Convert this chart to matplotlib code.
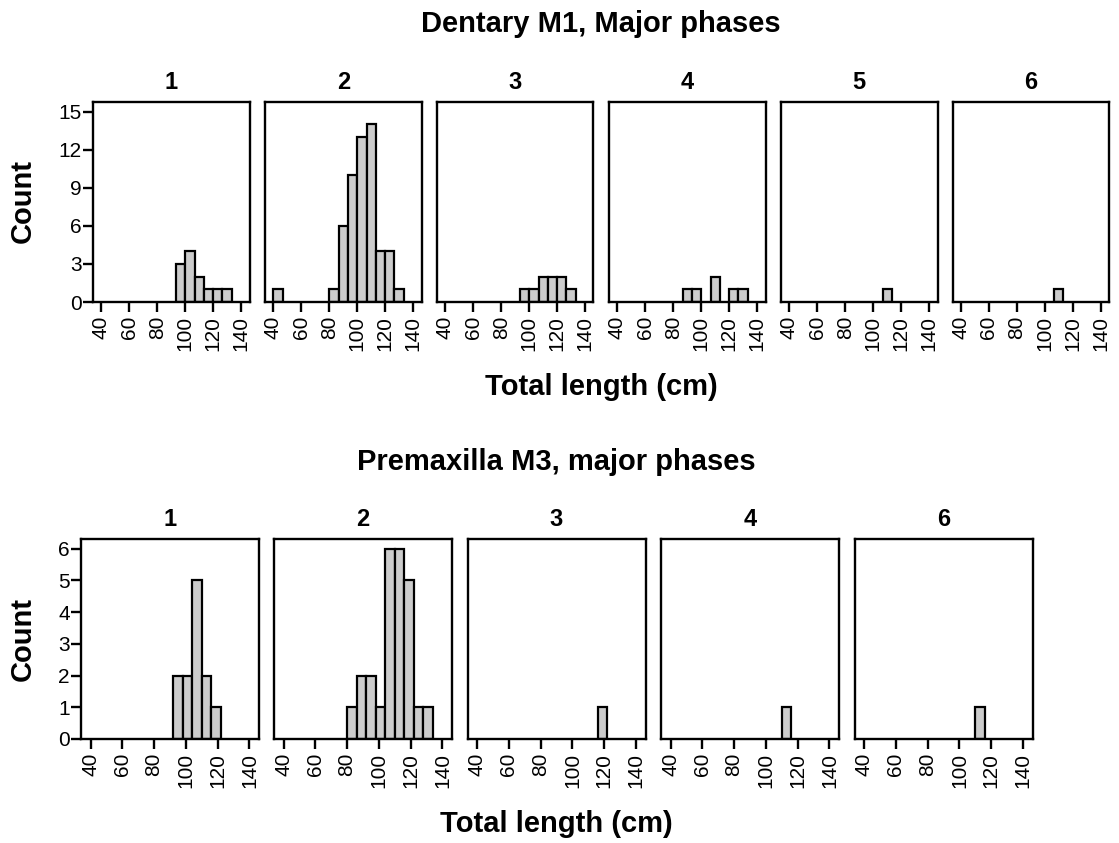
import numpy as np
import matplotlib
matplotlib.use("Agg")
import matplotlib.pyplot as plt

plt.rcParams['font.family'] = ['Liberation Sans', 'DejaVu Sans']

# Dentary M1: bins of 20/3 cm from 40 to 140
top_edges = [40, 46.67, 53.33, 60, 66.67, 73.33, 80, 86.67, 93.33, 100,
             106.67, 113.33, 120, 126.67, 133.33, 140]
top_phases = ["1", "2", "3", "4", "5", "6"]
top_counts = [
    [0, 0, 0, 0, 0, 0, 0, 0, 3, 4, 2, 1, 1, 1, 0],
    [1, 0, 0, 0, 0, 0, 1, 6, 10, 13, 14, 4, 4, 1, 0],
    [0, 0, 0, 0, 0, 0, 0, 0, 1, 1, 2, 2, 2, 1, 0],
    [0, 0, 0, 0, 0, 0, 0, 1, 1, 0, 2, 0, 1, 1, 0],
    [0, 0, 0, 0, 0, 0, 0, 0, 0, 0, 1, 0, 0, 0, 0],
    [0, 0, 0, 0, 0, 0, 0, 0, 0, 0, 1, 0, 0, 0, 0],
]
top_yticks = [0, 3, 6, 9, 12, 15]

# Premaxilla M3: bins of 6 cm from 80 to 134
bot_edges = [80, 86, 92, 98, 104, 110, 116, 122, 128, 134]
bot_phases = ["1", "2", "3", "4", "6"]
bot_counts = [
    [0, 0, 2, 2, 5, 2, 1, 0, 0],
    [1, 2, 2, 1, 6, 6, 5, 1, 1],
    [0, 0, 0, 0, 0, 0, 1, 0, 0],
    [0, 0, 0, 0, 0, 1, 0, 0, 0],
    [0, 0, 0, 0, 0, 1, 0, 0, 0],
]
bot_yticks = [0, 1, 2, 3, 4, 5, 6]

xticks = [40, 60, 80, 100, 120, 140]

W, H = 1119, 843
fig = plt.figure(figsize=(W / 100, H / 100), dpi=100)


def px_axes(left, top, width, height):
    return fig.add_axes([left / W, 1 - (top + height) / H, width / W, height / H])


def draw_row(edges, counts, phases, yticks, lefts, top, width, height):
    edges = np.array(edges)
    ymax = yticks[-1] * 1.05
    for i, (c, ph) in enumerate(zip(counts, phases)):
        ax = px_axes(lefts[i], top, width, height)
        c = np.array(c)
        keep = c > 0
        ax.bar(edges[:-1][keep], c[keep], width=np.diff(edges)[keep], align='edge',
               color='#cccccc', edgecolor='black', linewidth=1.6)
        ax.set_xlim(34, 146)
        ax.set_ylim(0, ymax)
        ax.set_xticks(xticks)
        ax.set_xticklabels([str(t) for t in xticks], rotation=90, fontsize=15)
        ax.tick_params(axis='x', direction='out', length=7, width=1.7, pad=3)
        if i == 0:
            ax.set_yticks(yticks)
            ax.set_yticklabels([str(t) for t in yticks], fontsize=15)
            ax.tick_params(axis='y', direction='out', length=7, width=1.7, pad=1)
        else:
            ax.set_yticks([])
        for s in ax.spines.values():
            s.set_linewidth(1.7)
        cx = (lefts[i] + width / 2) / W
        fig.text(cx, 1 - (top - 13) / H, ph, ha='center', va='baseline',
                 fontsize=17, fontweight='bold')


top_lefts = [93, 265, 437, 609, 781, 952.5]
draw_row(top_edges, top_counts, top_phases, top_yticks, top_lefts, 102, 156.5, 200)

bot_lefts = [81, 274, 467.5, 661, 854.5]
draw_row(bot_edges, bot_counts, bot_phases, bot_yticks, bot_lefts, 539, 178, 200)

fig.text(601 / W, 1 - 32 / H, "Dentary M1, Major phases", ha='center', va='baseline',
         fontsize=21, fontweight='bold')
fig.text(601 / W, 1 - 395 / H, "Total length (cm)", ha='center', va='baseline',
         fontsize=21, fontweight='bold')
fig.text(23 / W, 1 - 201 / H, "Count", ha='center', va='center', rotation=90,
         fontsize=21, fontweight='bold')

fig.text(556 / W, 1 - 470 / H, "Premaxilla M3, major phases", ha='center', va='baseline',
         fontsize=21, fontweight='bold')
fig.text(556 / W, 1 - 832 / H, "Total length (cm)", ha='center', va='baseline',
         fontsize=21, fontweight='bold')
fig.text(23 / W, 1 - 639 / H, "Count", ha='center', va='center', rotation=90,
         fontsize=21, fontweight='bold')

fig.savefig("out.png", dpi=100)
